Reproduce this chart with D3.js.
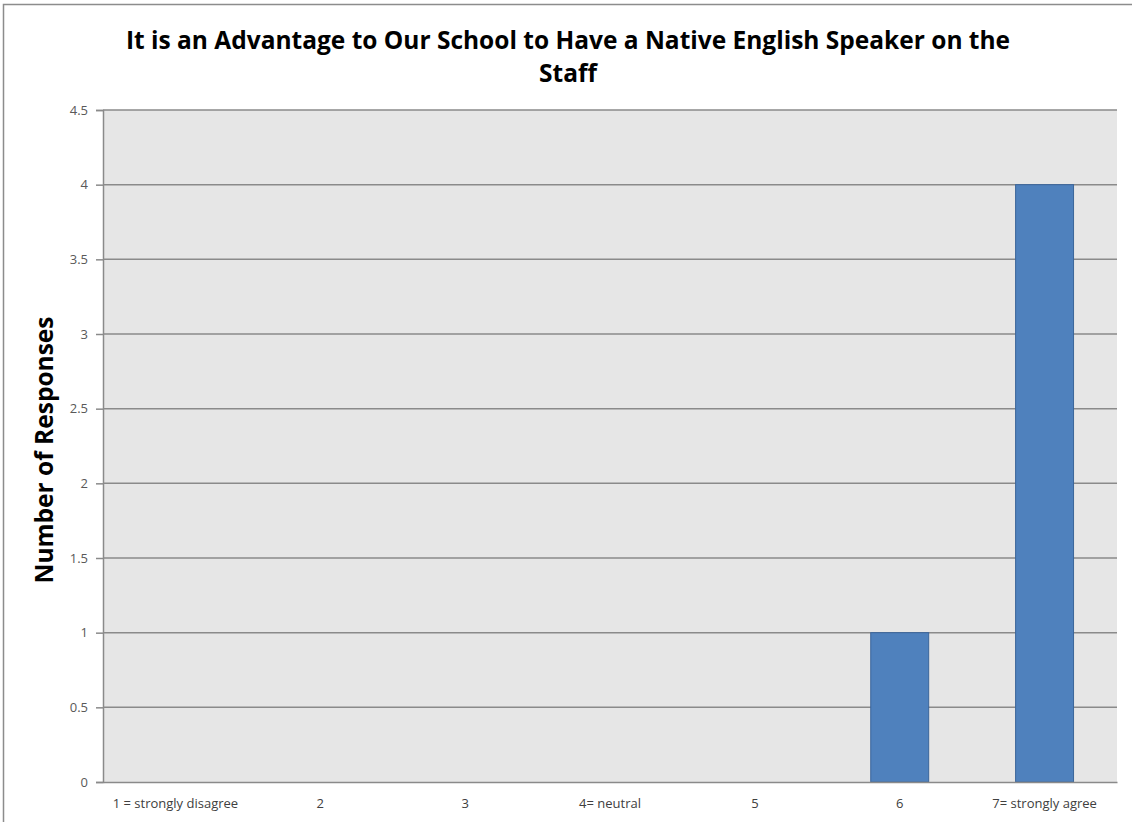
<!DOCTYPE html>
<html>
<head>
<meta charset="utf-8">
<script src="https://cdn.jsdelivr.net/npm/d3@7"></script>
<style>
  body { margin: 0; background: #fff; }
  svg { display: block; }
</style>
</head>
<body>
<div id="chart-area"></div>
<script>
// data
var categories = ["1 = strongly disagree", "2", "3", "4= neutral", "5", "6", "7= strongly agree"];
var responses = [0, 0, 0, 0, 0, 1, 4];
var yTicks = [0, 0.5, 1, 1.5, 2, 2.5, 3, 3.5, 4, 4.5];

var W = 1132, H = 822;
var margin = { left: 103, right: 15, top: 110, bottom: 40 };
var width = W - margin.left - margin.right,
    height = H - margin.top - margin.bottom;
var font = "'Open Sans', sans-serif";

var svg = d3.select("#chart-area")
    .append("svg")
        .attr("width", W)
        .attr("height", H);

// outer frame
svg.append("rect")
    .attr("x", 3.5).attr("y", 4.5)
    .attr("width", W + 10).attr("height", H + 10)
    .attr("fill", "#fff")
    .attr("stroke", "#8c8c8c")
    .attr("stroke-width", 1.5);

var g = svg.append("g")
    .attr("transform", "translate(" + margin.left + "," + margin.top + ")");

// scales
var xScale = d3.scaleBand()
    .domain(categories)
    .range([0, width])
    .padding(0);
var yScale = d3.scaleLinear()
    .domain([0, 4.5])
    .range([height, 0]);

// plot background
g.append("rect")
    .attr("width", width)
    .attr("height", height)
    .attr("fill", "#e6e6e6");

// gridlines
g.selectAll(".grid")
    .data(yTicks.filter(function(d) { return d > 0; }))
    .enter().append("line")
    .attr("class", "grid")
    .attr("x1", 0).attr("x2", width)
    .attr("y1", function(d) { return yScale(d); })
    .attr("y2", function(d) { return yScale(d); })
    .attr("stroke", "#8a8a8a")
    .attr("stroke-width", 1.5);

// bars
var barW = xScale.bandwidth() * 0.4;
g.selectAll(".bar")
    .data(responses)
    .enter().append("rect")
    .attr("class", "bar")
    .attr("x", function(d, i) { return xScale(categories[i]) + (xScale.bandwidth() - barW) / 2; })
    .attr("y", function(d) { return yScale(d); })
    .attr("width", barW)
    .attr("height", function(d) { return height - yScale(d); })
    .attr("fill", "#4f81bd")
    .attr("stroke", "#3b659a")
    .attr("stroke-width", 1)
    .style("display", function(d) { return d > 0 ? null : "none"; });

// Y axis
var yAxisCall = d3.axisLeft(yScale)
    .tickValues(yTicks)
    .tickSize(7)
    .tickPadding(8)
    .tickFormat(function(d) { return d; });
var yAxis = g.append("g")
    .attr("class", "y axis")
    .call(yAxisCall);
yAxis.select(".domain").attr("stroke", "#8a8a8a").attr("stroke-width", 1.5);
yAxis.selectAll(".tick line").attr("stroke", "#8a8a8a").attr("stroke-width", 1.5);
yAxis.selectAll(".tick text")
    .attr("font-family", font)
    .attr("font-size", "13px")
    .attr("fill", "#595959");

// X axis
var xAxisCall = d3.axisBottom(xScale).tickSize(0).tickPadding(17);
var xAxis = g.append("g")
    .attr("class", "x axis")
    .attr("transform", "translate(0," + height + ")")
    .call(xAxisCall);
xAxis.select(".domain").attr("stroke", "#8a8a8a").attr("stroke-width", 1.5);
xAxis.selectAll(".tick text")
    .attr("font-family", font)
    .attr("font-size", "13px")
    .attr("fill", "#404040");

// title
var title = svg.append("text")
    .attr("x", 568)
    .attr("y", 49)
    .attr("text-anchor", "middle")
    .attr("font-family", font)
    .attr("font-weight", "bold")
    .attr("font-size", "24.5px")
    .attr("fill", "#000");
title.append("tspan").attr("x", 568).text("It is an Advantage to Our School to Have a  Native English Speaker on the");
title.append("tspan").attr("x", 568).attr("dy", 33).text("Staff");

// y label
svg.append("text")
    .attr("transform", "translate(53," + (margin.top + height / 2 + 4) + ") rotate(-90)")
    .attr("text-anchor", "middle")
    .attr("font-family", font)
    .attr("font-weight", "bold")
    .attr("font-size", "24.5px")
    .attr("fill", "#000")
    .text("Number of Responses");
</script>
</body>
</html>
